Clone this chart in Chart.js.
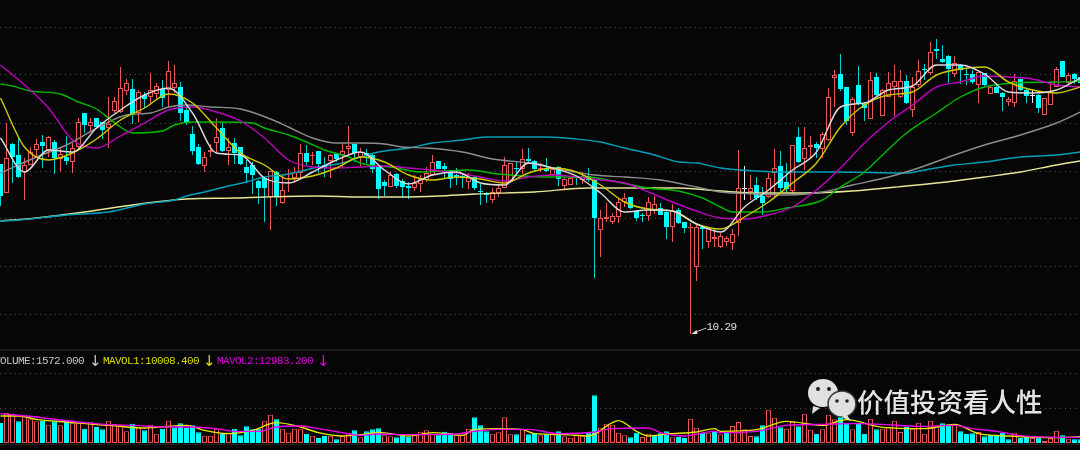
<!DOCTYPE html>
<html>
<head>
<meta charset="utf-8">
<title>K线图</title>
<script src="https://cdn.jsdelivr.net/npm/chart.js@4"></script>
<style>
  html, body { margin: 0; padding: 0; background: #060606; overflow: hidden; }
  #wrap { position: relative; width: 1080px; height: 450px; overflow: hidden; }
  canvas { position: absolute; left: 0; top: 0; filter: blur(0.3px); }
  .leg { position: absolute; top: 355px; font: 11px/12px "Liberation Mono", monospace; letter-spacing: -0.6px; white-space: pre; }
  .arr { position: absolute; top: 353px; font: 15px/17px "DejaVu Sans", sans-serif; white-space: pre; }
  .mark { position: absolute; left: 857px; top: 382px; font: 500 26.5px/38px "Noto Sans CJK SC", sans-serif; color: #e4e4e4; white-space: nowrap; text-shadow: 0 0 3px #000; }
  svg { position: absolute; left: 805px; top: 376px; }
</style>
</head>
<body>
<div id="wrap">
  <canvas id="grafica" width="1080" height="450"></canvas>
  <span class="leg" style="left:-6px;color:#c4c4c4">VOLUME:1572.000</span>
  <span class="arr" style="left:89px;color:#c4c4c4">↓</span>
  <span class="leg" style="left:103px;color:#dcdc00">MAVOL1:10008.400</span>
  <span class="arr" style="left:203px;color:#dcdc00">↓</span>
  <span class="leg" style="left:217px;color:#dc00dc">MAVOL2:12983.200</span>
  <span class="arr" style="left:317px;color:#dc00dc">↓</span>
  <svg width="52" height="46" viewBox="0 0 52 46">
    <path d="M8 30 L7 38 L15 32 Z" fill="#e0e0e0"/>
    <ellipse cx="18" cy="17" rx="15" ry="14" fill="#e0e0e0"/>
    <circle cx="13" cy="13" r="2" fill="#222"/><circle cx="24" cy="13" r="2" fill="#222"/>
    <ellipse cx="37" cy="28" rx="14" ry="13" fill="#e0e0e0" stroke="#333" stroke-width="1.5"/>
    <path d="M42 39 L46 45 L36 41 Z" fill="#e0e0e0"/>
    <circle cx="32" cy="25" r="1.8" fill="#222"/><circle cx="42" cy="25" r="1.8" fill="#222"/>
  </svg>
  <div class="mark">价值投资看人性</div>
</div>
<script>
// precios de cada vela, indice = posicion en el eje
const opens = [11.99,11.70,12.19,12.08,11.91,11.98,12.13,12.21,12.13,12.21,12.04,12.06,12.01,12.16,12.50,12.37,12.45,12.41,12.35,12.52,
12.51,12.72,12.74,12.50,12.68,12.66,12.69,12.74,12.73,12.75,12.76,12.53,12.29,12.16,11.97,12.11,12.20,12.35,12.12,12.20,
12.16,11.96,11.98,11.82,11.85,11.66,11.91,11.60,11.80,11.85,11.90,12.10,12.07,12.12,11.98,12.02,12.09,12.08,12.14,12.19,
12.06,12.10,12.08,11.96,11.81,11.76,11.89,11.82,11.77,11.75,11.79,11.83,11.88,12.02,11.97,11.92,11.88,11.87,11.81,11.86,
11.72,11.70,11.63,11.70,11.75,11.81,11.95,11.94,12.04,12.02,11.94,11.94,11.88,11.96,11.77,11.78,11.86,11.83,11.87,11.84,
11.33,11.44,11.41,11.46,11.61,11.66,11.52,11.48,11.47,11.53,11.55,11.51,11.36,11.53,11.41,11.35,10.96,11.36,11.21,11.24,
11.16,11.21,11.20,11.40,11.74,11.71,11.78,11.67,11.66,11.90,11.97,11.81,11.72,12.26,12.04,12.16,12.19,12.14,12.23,12.85,
12.89,12.76,12.30,12.78,12.59,12.44,12.86,12.47,12.66,12.76,12.66,12.82,12.53,12.78,12.94,12.90,13.14,13.04,13.07,12.89,
12.98,12.89,12.89,12.78,12.90,12.69,12.76,12.70,12.61,12.60,12.84,12.73,12.67,12.68,12.48,12.58,12.76,13.02,12.80,12.89,12.86];
const closes = [11.67,12.05,12.06,11.86,11.98,12.11,12.19,12.17,12.26,12.05,12.09,12.02,12.15,12.41,12.38,12.41,12.36,12.33,12.39,12.62,
12.75,12.80,12.49,12.71,12.64,12.73,12.77,12.65,12.92,12.80,12.50,12.40,12.12,11.99,12.06,12.13,12.26,12.12,12.16,12.10,
11.99,11.90,11.88,11.75,11.75,11.92,11.66,11.73,11.81,11.91,12.10,12.01,12.08,11.99,11.95,12.08,12.04,12.12,12.17,12.10,
12.11,12.08,11.94,11.74,11.77,11.88,11.77,11.76,11.75,11.80,11.84,11.90,12.01,11.94,11.94,11.84,11.86,11.85,11.86,11.75,
11.71,11.68,11.71,11.75,11.98,12.00,11.94,12.04,12.02,11.94,11.95,11.92,11.94,11.84,11.84,11.85,11.85,11.86,11.83,11.45,
11.45,11.46,11.47,11.61,11.65,11.55,11.45,11.47,11.61,11.59,11.48,11.36,11.52,11.40,11.35,11.36,11.36,11.34,11.35,11.26,
11.27,11.25,11.29,11.75,11.74,11.75,11.65,11.60,11.85,11.95,11.75,11.74,12.18,12.01,12.15,12.18,12.15,12.29,12.66,12.88,
12.74,12.42,12.64,12.59,12.55,12.83,12.68,12.73,12.80,12.82,12.82,12.60,12.76,12.92,12.93,13.11,13.12,13.01,12.94,13.00,
12.93,12.88,12.81,12.91,12.78,12.76,12.70,12.66,12.64,12.82,12.73,12.67,12.67,12.55,12.65,12.71,12.94,12.86,12.88,12.84,12.80];
const highs = [11.99,12.40,12.20,12.25,12.05,12.16,12.24,12.28,12.27,12.23,12.16,12.27,12.20,12.45,12.50,12.45,12.45,12.41,12.66,12.66,
12.96,12.84,12.84,12.73,12.71,12.90,12.80,12.83,13.02,12.98,12.81,12.57,12.37,12.19,12.11,12.19,12.45,12.41,12.25,12.25,
12.16,12.03,12.01,11.83,11.86,11.92,11.92,11.88,11.94,11.96,12.19,12.18,12.11,12.12,12.06,12.09,12.10,12.20,12.37,12.19,
12.15,12.14,12.10,11.98,11.83,11.91,11.90,11.84,11.81,11.88,11.88,11.96,12.08,12.02,12.00,11.93,11.95,11.90,11.90,11.87,
11.79,11.71,11.75,11.78,12.06,12.00,12.01,12.14,12.15,12.03,12.00,12.05,11.96,11.97,11.86,11.86,11.87,11.91,11.95,11.86,
11.53,11.60,11.50,11.65,11.70,11.66,11.53,11.50,11.66,11.67,11.60,11.53,11.59,11.55,11.41,11.40,11.40,11.37,11.36,11.35,
11.30,11.27,11.34,12.13,11.97,11.88,11.86,11.76,11.90,12.14,12.12,12.00,12.18,12.36,12.36,12.27,12.21,12.31,12.75,12.93,
13.09,12.76,12.66,12.97,12.61,12.91,12.90,12.74,12.91,12.98,12.93,12.88,12.86,13.03,12.99,13.21,13.24,13.18,13.08,13.07,
12.99,12.94,12.93,12.93,12.90,12.78,12.80,12.71,12.66,12.89,12.85,12.75,12.74,12.69,12.65,12.80,12.96,13.02,12.90,12.90,12.88];
const lows = [11.57,11.70,11.80,11.85,11.63,11.98,12.07,11.95,12.06,11.89,11.91,11.98,11.90,12.13,12.30,12.31,12.35,12.24,12.15,12.50,
12.50,12.68,12.39,12.41,12.55,12.58,12.65,12.56,12.56,12.70,12.42,12.38,12.08,11.98,11.91,12.06,12.11,12.11,11.98,11.99,
11.98,11.80,11.69,11.59,11.41,11.33,11.57,11.59,11.71,11.80,11.85,11.98,11.98,11.90,11.86,11.85,12.01,11.95,12.09,12.01,
11.96,12.00,11.90,11.64,11.67,11.76,11.75,11.65,11.64,11.72,11.71,11.81,11.87,11.94,11.85,11.75,11.78,11.75,11.74,11.73,
11.58,11.60,11.60,11.66,11.75,11.80,11.88,11.89,12.00,11.92,11.91,11.91,11.87,11.77,11.74,11.78,11.78,11.79,11.81,10.85,
11.06,11.41,11.39,11.40,11.56,11.54,11.42,11.41,11.42,11.49,11.48,11.24,11.21,11.39,11.30,10.29,10.82,11.14,11.15,11.16,
11.15,11.17,11.13,11.27,11.63,11.63,11.63,11.48,11.65,11.66,11.70,11.70,11.70,12.00,11.93,12.05,12.05,12.05,12.22,12.56,
12.72,12.38,12.27,12.58,12.42,12.44,12.67,12.47,12.66,12.47,12.65,12.59,12.46,12.76,12.83,12.88,13.04,13.00,12.80,12.86,
12.79,12.78,12.79,12.60,12.77,12.69,12.70,12.52,12.57,12.56,12.72,12.60,12.60,12.50,12.48,12.58,12.76,12.86,12.78,12.79,12.79];

// volumen y si la barra sube (1) o baja (0)
const volumes = [30000,45000,42500,32500,40500,35500,32500,33500,27500,32500,26500,33000,30500,30500,21500,32000,24000,20500,33500,28500,
27500,17500,29000,23500,19000,27500,14000,21500,33500,23500,29500,22500,26500,16000,11000,11000,21500,13500,15500,21500,
11500,25000,20500,21500,32500,42500,35500,21500,15500,21500,21500,14000,11000,7500,10500,11000,5500,10500,15500,19000,
8500,17500,20500,22000,11500,10000,8500,13000,9500,14000,17000,19000,14000,12500,17000,15000,12500,11500,21500,38500,
26500,17500,14000,16000,38500,13000,13000,21500,13000,15500,11500,14000,13000,17500,10000,8000,11500,10000,15500,71500,
23000,29000,27500,15500,11500,8500,15500,9000,14000,10500,14500,17500,8500,9000,7500,36500,23000,15500,15500,18500,
13000,16500,25500,31500,20500,10500,10000,26500,50000,38000,23500,21500,31500,25000,44000,20000,14000,20500,42500,35500,
47500,30500,20500,30500,14000,36500,20500,21500,24000,33500,16500,24000,21500,30500,14000,33500,25000,29500,27500,28000,
17500,13500,14500,16500,10000,12500,12500,15500,5500,15500,7500,9000,7500,8500,3000,7500,18500,11500,6500,5500,5500];
const volUp = [0,1,1,0,1,1,1,0,1,0,1,0,1,1,0,1,0,0,1,1,1,1,0,1,0,1,1,0,1,0,0,0,0,0,1,1,1,0,1,0,0,0,0,0,1,1,0,1,1,1,1,0,1,0,0,1,0,1,1,0,
1,0,0,0,1,1,0,0,0,1,1,1,1,0,0,0,1,1,1,0,0,0,1,1,1,1,0,1,0,0,1,0,1,0,1,1,1,1,0,0,1,1,1,1,1,0,0,1,1,0,0,0,1,0,0,1,1,0,1,0,
1,0,1,1,1,1,0,0,1,1,0,1,1,0,1,1,0,1,1,1,0,0,1,0,0,1,0,1,1,1,1,0,1,1,1,1,1,0,0,1,0,0,0,1,0,0,0,0,0,1,0,0,1,0,1,1,1,0,1,0,0];

// medias moviles
const maShortX = [0,4,8,12,16,20,24,28,32,36,40,44,48,52,56,60,64,68,72,76,80,84,88,92,96,100,104,108,112,116,120,124,128,132,136,140,144,148,152,156,160,164,168,172,176,180];
const ma5 = [12.25,11.91,12.13,12.11,12.35,12.53,12.68,12.75,12.50,12.10,12.08,11.85,11.80,11.91,12.03,12.11,11.93,11.79,11.88,11.91,11.80,11.78,12.00,11.95,11.87,11.70,11.51,11.53,11.52,11.39,11.31,11.56,11.73,11.93,12.11,12.56,12.60,12.73,12.77,12.98,12.98,12.89,12.71,12.70,12.73,12.85];
const ma10 = [12.65,12.16,12.03,12.10,12.24,12.43,12.55,12.69,12.60,12.35,12.10,11.98,11.84,11.87,11.95,12.06,12.01,11.88,11.83,11.86,11.84,11.80,11.90,11.95,11.91,11.78,11.61,11.54,11.52,11.39,11.34,11.46,11.61,11.80,12.00,12.36,12.58,12.68,12.71,12.88,12.94,12.96,12.81,12.73,12.70,12.76];
const ma20 = [12.98,12.78,12.55,12.23,12.15,12.27,12.40,12.53,12.56,12.51,12.42,12.25,12.03,11.96,11.95,11.96,11.97,11.95,11.93,11.90,11.86,11.82,11.86,11.88,11.86,11.83,11.80,11.71,11.61,11.52,11.45,11.44,11.48,11.56,11.73,11.95,12.20,12.41,12.58,12.76,12.81,12.87,12.86,12.84,12.78,12.76];
const ma30X = [0,2,5,10,13,16,18,20,22,27,29,32,36,42,44,48,51,54,58,60,66,70,74,78,83,87,91,98,102,108,113,117,120,122,127,131,137,140,144,147,151,156,160,164,169,176,180];
const ma30 = [12.79,12.77,12.72,12.69,12.61,12.54,12.45,12.36,12.30,12.32,12.38,12.41,12.41,12.40,12.35,12.28,12.21,12.13,12.06,12.00,11.95,11.91,11.92,11.93,11.89,11.87,11.86,11.86,11.82,11.75,11.72,11.65,11.56,11.51,11.51,11.55,11.63,11.76,11.91,12.08,12.30,12.50,12.66,12.76,12.80,12.81,12.82];
const ma60X = [0,6,11,17,21,25,28,31,35,40,45,48,52,56,60,64,67,71,77,82,88,93,99,104,110,116,120,126,131,137,142,148,153,159,164,170,176,180];
const ma60 = [11.90,12.06,12.18,12.38,12.48,12.50,12.56,12.58,12.56,12.54,12.44,12.36,12.25,12.20,12.20,12.19,12.16,12.15,12.11,12.04,12.00,11.94,11.88,11.86,11.83,11.76,11.71,11.69,11.68,11.71,11.78,11.86,11.95,12.08,12.18,12.28,12.40,12.51];
const ma120X = [0,3,11,18,24,29,31,34,38,41,44,48,53,57,60,63,68,72,77,81,85,91,96,100,104,109,113,116,120,126,131,139,151,154,159,164,170,176,180];
const ma120 = [11.42,11.43,11.48,11.51,11.59,11.63,11.67,11.71,11.77,11.81,11.86,11.89,11.96,12.00,12.06,12.11,12.15,12.20,12.23,12.26,12.26,12.26,12.24,12.21,12.15,12.08,12.01,12.00,11.95,11.92,11.91,11.91,11.90,11.93,11.98,12.01,12.06,12.08,12.11];
const ma250X = [0,6,14,22,31,39,44,53,60,67,73,79,89,98,104,113,120,126,134,142,151,159,164,170,176,180];
const ma250 = [11.42,11.45,11.51,11.58,11.64,11.65,11.66,11.67,11.66,11.66,11.67,11.69,11.71,11.75,11.75,11.75,11.72,11.70,11.70,11.72,11.77,11.82,11.86,11.91,11.98,12.02];

const mavol1X = [0,3,6,11,16,18,24,31,34,38,42,46,50,53,57,60,63,68,72,77,79,83,87,89,94,98,103,106,108,111,116,119,120,126,131,137,141,147,154,159,163,168,176,180];
const mavol1 = [40500,40500,35500,31500,27500,26500,22500,26500,19000,14000,19000,30500,24000,15500,10500,12500,16000,10500,15500,11500,20500,21500,20000,14000,12500,10500,33500,17500,10500,13500,16500,21500,17500,20000,32500,26500,35000,23500,21500,28000,14000,10500,8000,9500];
const mavol2X = [0,6,10,14,18,22,28,32,36,39,43,46,50,53,57,60,63,68,76,79,83,88,93,99,102,108,110,114,119,120,126,131,137,142,147,153,159,162,166,170,176,180];
const mavol2 = [44000,39000,34500,30500,27500,26500,24000,24000,21500,17500,17500,24000,25500,21500,15500,11500,13500,12500,13500,17500,20500,20500,14000,16500,21500,22500,15500,10500,17500,15500,17500,26500,28000,29000,28000,25000,26500,21500,17500,11000,8500,8500];

// rejilla punteada de cada panel
const priceGrid = [13.36,12.88,12.40,11.92,11.45,10.97,10.49];
const volumeGrid = [52000,104000];

const ROJO = "#e85858";
const CIAN = "#00ffff";
const MECHA_CIAN = "#00d0d0";
const BLANCO = "#f0f0f0";
const FONDO = "#060606";

function colorVela(i) {
  if (opens[i] === closes[i]) return BLANCO;
  return closes[i] > opens[i] ? ROJO : CIAN;
}
function colorMecha(i) {
  const c = colorVela(i);
  return c === CIAN ? MECHA_CIAN : c;
}

const lineaMedia = (xs, ys, color, yAxisID, order) => ({
  type: "line",
  data: xs.map((x, k) => ({ x: x, y: ys[k] })),
  borderColor: color,
  borderWidth: 1.4,
  pointRadius: 0,
  cubicInterpolationMode: "monotone",
  yAxisID: yAxisID,
  order: order
});

const rejilla = (valores) => ({
  afterBuildTicks: (scale) => { scale.ticks = valores.map(v => ({ value: v })); },
  ticks: { display: false },
  border: { display: false, dash: [1, 4] },
  grid: { color: "#505050", lineWidth: 1, drawTicks: false }
});

// lineas de separacion de paneles y la etiqueta del minimo
const extras = {
  id: "extras",
  beforeDatasetsDraw(chart) {
    const ctx = chart.ctx;
    ctx.fillStyle = "#1e1e1e";
    ctx.fillRect(0, 349, 1080, 2);
    ctx.fillRect(0, 444, 1080, 1);
  },
  afterDatasetsDraw(chart) {
    const ctx = chart.ctx;
    const minimo = Math.min(...lows);
    const px = chart.scales.x.getPixelForValue(lows.indexOf(minimo));
    const py = chart.scales.y.getPixelForValue(minimo);
    ctx.save();
    ctx.strokeStyle = "#c8c8c8";
    ctx.fillStyle = "#e0e0e0";
    ctx.beginPath();
    ctx.moveTo(px + 5, py - 2);
    ctx.lineTo(px + 16, py - 6);
    ctx.stroke();
    ctx.beginPath();
    ctx.moveTo(px + 1, py);
    ctx.lineTo(px + 6, py - 4);
    ctx.lineTo(px + 7, py);
    ctx.closePath();
    ctx.fill();
    ctx.font = '11px "Liberation Mono", monospace';
    ctx.letterSpacing = "-0.6px";
    ctx.fillText(minimo.toFixed(2), px + 16, py - 4);
    ctx.restore();
  }
};

const indices = opens.map((_, i) => i);

new Chart(document.getElementById("grafica").getContext("2d"), {
  data: {
    datasets: [
      {
        type: "bar",
        data: indices.map(i => ({ x: i, y: [lows[i], highs[i]] })),
        backgroundColor: indices.map(colorMecha),
        barThickness: 1,
        grouped: false,
        inflateAmount: 0,
        yAxisID: "y",
        order: 30
      },
      {
        type: "bar",
        data: indices.map(i => ({ x: i, y: [opens[i], closes[i]] })),
        backgroundColor: indices.map(i => colorVela(i) === ROJO ? FONDO : colorVela(i)),
        borderColor: indices.map(colorVela),
        borderWidth: 1,
        borderSkipped: false,
        barThickness: 5,
        minBarLength: 1,
        grouped: false,
        inflateAmount: 0,
        yAxisID: "y",
        order: 20
      },
      {
        type: "bar",
        data: indices.map(i => ({ x: i, y: volumes[i] })),
        backgroundColor: indices.map(i => volUp[i] ? FONDO : CIAN),
        borderColor: indices.map(i => volUp[i] ? ROJO : CIAN),
        borderWidth: 1,
        borderSkipped: false,
        barThickness: 5,
        grouped: false,
        inflateAmount: 0,
        yAxisID: "yVol",
        order: 20
      },
      lineaMedia(maShortX, ma5, "#dcdcdc", "y", 1),
      lineaMedia(maShortX, ma10, "#d0cc00", "y", 2),
      lineaMedia(maShortX, ma20, "#c000c0", "y", 3),
      lineaMedia(ma30X, ma30, "#00b800", "y", 4),
      lineaMedia(ma60X, ma60, "#8c8c8c", "y", 5),
      lineaMedia(ma120X, ma120, "#00a0b8", "y", 6),
      lineaMedia(ma250X, ma250, "#e6e696", "y", 7),
      lineaMedia(mavol1X, mavol1, "#e8e800", "yVol", 2),
      lineaMedia(mavol2X, mavol2, "#f000f0", "yVol", 1)
    ]
  },
  options: {
    responsive: false,
    animation: false,
    events: [],
    layout: { padding: 0 },
    plugins: { legend: { display: false }, tooltip: { enabled: false } },
    scales: {
      x: { type: "linear", display: false, min: -0.5 / 6, max: (1080 - 0.5) / 6, offset: false },
      y: Object.assign({ min: 9.13, max: 13.63, position: "left" }, rejilla(priceGrid)),
      yVol: Object.assign({ min: -10500, max: 664500, position: "left" }, rejilla(volumeGrid))
    }
  },
  plugins: [extras]
});
</script>
</body>
</html>
